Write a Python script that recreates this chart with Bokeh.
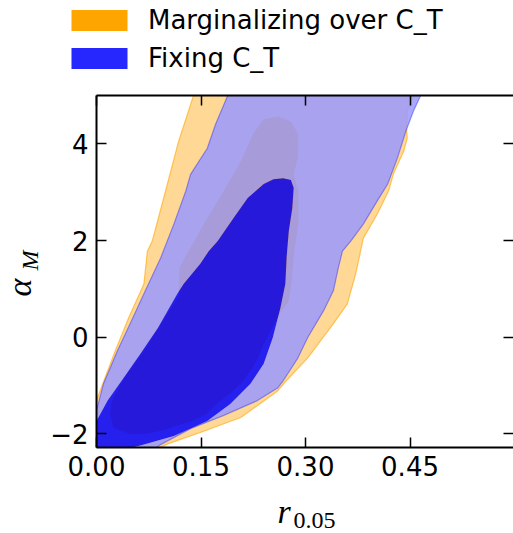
from bokeh.plotting import figure
from bokeh.layouts import row, column
from bokeh.models import (ColumnDataSource, LinearAxis, FixedTicker, PrintfTickFormatter,
                          CustomJSTickFormatter, Legend, LegendItem, Label, Range1d)
from bokeh.embed import file_html
from bokeh.resources import INLINE

# ---------------- data ----------------
x_ticks = [0.0, 0.15, 0.30, 0.45]
y_ticks = [-2, 0, 2, 4]
legend_labels = ["Marginalizing over C_T", "Fixing C_T"]

# Marginalizing over C_T : 2-sigma contour
marg_2sig_x = [0.146, 0.139, 0.118, 0.099, 0.080, 0.073, 0.068, 0.046, 0.027, 0.009, 0.000, -0.016, -0.023,
               0.075, 0.103, 0.149, 0.207, 0.260, 0.271,
               0.303, 0.340, 0.360, 0.372, 0.379, 0.383, 0.403, 0.419, 0.426, 0.441, 0.446, 0.445, 0.446, 0.455, 0.459]
marg_2sig_y = [5.29, 4.99, 4.06, 3.02, 1.99, 1.78, 1.10, 0.40, -0.28, -0.96, -1.31, -1.73, -2.45,
               -2.39, -2.20, -1.97, -1.66, -1.11, -0.92,
               -0.43, 0.28, 0.69, 1.31, 1.78, 2.05, 2.55, 3.02, 3.37, 3.85, 4.12, 4.32, 4.68, 4.99, 5.29]

# Marginalizing over C_T : 1-sigma contour
marg_1sig_x = [0.225, 0.240, 0.260, 0.279, 0.290, 0.289, 0.283, 0.290, 0.290, 0.284,
               0.280, 0.276, 0.264, 0.254, 0.241, 0.234, 0.224, 0.211, 0.195, 0.177,
               0.157, 0.135, 0.115, 0.096, 0.072, 0.047, 0.024, 0.019, 0.022, 0.040,
               0.065, 0.089, 0.118, 0.119, 0.128, 0.154, 0.182, 0.207]
marg_1sig_y = [4.22, 4.51, 4.57, 4.47, 4.20, 3.70, 3.37, 3.02, 2.34, 1.78,
               1.10, 0.75, 0.50, 0.24, -0.12, -0.37, -0.63, -0.90, -1.13, -1.33,
               -1.60, -1.75, -1.83, -1.93, -2.00, -2.00, -1.87, -1.58, -1.31, -0.84,
               -0.34, 0.19, 0.86, 1.43, 1.68, 2.34, 3.02, 3.64]

# Fixing C_T : 2-sigma contour
fix_2sig_x = [0.195, 0.188, 0.171, 0.159, 0.135, 0.128, 0.111, 0.092, 0.070, 0.052, 0.030, 0.010, 0.001,
              -0.023, -0.037,
              0.078, 0.092, 0.135, 0.182, 0.231, 0.260, 0.267,
              0.289, 0.303, 0.326, 0.340, 0.347, 0.353, 0.365, 0.383, 0.403, 0.418, 0.432, 0.444, 0.455, 0.465, 0.472]
fix_2sig_y = [5.29, 4.99, 4.41, 3.91, 3.37, 3.02, 2.34, 1.64, 0.96, 0.40, -0.28, -0.96, -1.46,
              -2.14, -2.76,
              -2.37, -2.22, -1.89, -1.62, -1.31, -1.05, -0.92,
              -0.43, -0.01, 0.55, 0.96, 1.43, 1.78, 1.99, 2.34, 2.82, 3.17, 3.71, 4.26, 4.68, 4.99, 5.29]

# Fixing C_T : 1-sigma contour
fix_1sig_x = [0.254, 0.268, 0.279, 0.283, 0.281, 0.276, 0.273, 0.271, 0.264, 0.253,
              0.240, 0.221, 0.192, 0.159, 0.111, 0.063, 0.020, -0.016, -0.016, 0.000,
              0.016, 0.039, 0.063, 0.088, 0.116, 0.125, 0.149, 0.161, 0.174, 0.197,
              0.217, 0.240]
fix_1sig_y = [3.27, 3.29, 3.25, 3.09, 2.67, 2.20, 1.68, 1.10, 0.61, -0.01,
              -0.55, -0.96, -1.38, -1.73, -2.04, -2.24, -2.39, -2.51, -2.14, -1.73,
              -1.31, -0.84, -0.34, 0.19, 0.90, 1.10, 1.52, 1.78, 1.99, 2.47,
              2.88, 3.17]

# ---------------- styling ----------------
ORANGE = "#ffa500"
LIGHT_ORANGE = "#fed894"
BLUE = "#0000ff"
LIGHT_BLUE = "#9999ff"
BLUE_ALPHA = 0.85
SERIF = "Liberation Serif"

TOTAL_W, TOTAL_H = 513, 533
YLAB_W = 44          # strip on the left holding the y-axis label
LEG_H = 90           # strip on top holding the legend
XLAB_H = 41          # strip at the bottom holding the x-axis label
MAIN_W = TOTAL_W - YLAB_W
MAIN_H = TOTAL_H - LEG_H - XLAB_H


def blank_fig(w, h, xr, yr):
    f = figure(width=w, height=h, x_range=xr, y_range=yr, output_backend="svg",
               toolbar_location=None, x_axis_location=None, y_axis_location=None,
               min_border=0, frame_align=False)
    f.grid.visible = False
    f.outline_line_color = None
    f.background_fill_color = None
    f.border_fill_color = None
    return f


# ---------------- main plot ----------------
p = figure(width=MAIN_W, height=MAIN_H,
           x_range=(0.0, 0.5985), y_range=(-2.28, 5.0),
           min_border_left=52, min_border_right=0,
           min_border_top=5, min_border_bottom=45,
           output_backend="svg", toolbar_location=None, frame_align=False,
           x_axis_location=None, y_axis_location=None)
p.grid.visible = False
p.outline_line_color = None
p.background_fill_color = "white"
p.border_fill_color = "white"

marg_band = ColumnDataSource(dict(xs=[[[marg_2sig_x, marg_1sig_x]]], ys=[[[marg_2sig_y, marg_1sig_y]]]))
p.multi_polygons(xs="xs", ys="ys", source=marg_band, fill_color=LIGHT_ORANGE, line_color=None)
p.patch(marg_1sig_x, marg_1sig_y, fill_color=ORANGE, line_color=None)
p.line(marg_2sig_x + marg_2sig_x[:1], marg_2sig_y + marg_2sig_y[:1],
       line_color=ORANGE, line_alpha=0.6, line_width=1.2)

fix_band = ColumnDataSource(dict(xs=[[[fix_2sig_x, fix_1sig_x]]], ys=[[[fix_2sig_y, fix_1sig_y]]]))
p.multi_polygons(xs="xs", ys="ys", source=fix_band, fill_color=LIGHT_BLUE,
                 fill_alpha=BLUE_ALPHA, line_color=None)
p.patch(fix_1sig_x, fix_1sig_y, fill_color=BLUE, fill_alpha=BLUE_ALPHA, line_color=None)
p.line(fix_2sig_x + fix_2sig_x[:1], fix_2sig_y + fix_2sig_y[:1],
       line_color=BLUE, line_alpha=0.35, line_width=1.2)


def style_axis(ax):
    ax.major_tick_in = 10
    ax.major_tick_out = 0
    ax.minor_tick_in = 10
    ax.minor_tick_out = 0
    ax.major_tick_line_width = 1.5
    ax.minor_tick_line_width = 1.5
    ax.major_tick_line_color = "black"
    ax.minor_tick_line_color = "black"
    ax.axis_line_width = 2
    ax.axis_line_color = "black"
    ax.major_label_text_font = "DejaVu Sans"
    ax.major_label_text_font_size = "26px"
    ax.major_label_text_color = "black"
    ax.major_label_standoff = 8


xb = LinearAxis(ticker=FixedTicker(ticks=x_ticks, minor_ticks=[]),
                formatter=PrintfTickFormatter(format="%.2f"))
style_axis(xb)
p.add_layout(xb, "below")

# top / right: tick marks only (minor ticks carry no labels)
xt = LinearAxis(ticker=FixedTicker(ticks=[], minor_ticks=x_ticks))
style_axis(xt)
xt.major_label_standoff = 0
p.add_layout(xt, "above")

yfmt = CustomJSTickFormatter(code="return (tick < 0 ? '\\u2212' : '') + Math.abs(tick).toFixed(0);")
yl = LinearAxis(ticker=FixedTicker(ticks=y_ticks, minor_ticks=[]), formatter=yfmt)
style_axis(yl)
p.add_layout(yl, "left")

yr = LinearAxis(ticker=FixedTicker(ticks=[], minor_ticks=y_ticks))
style_axis(yr)
yr.axis_line_color = None
yr.major_label_standoff = 0
p.add_layout(yr, "right")

# ---------------- legend strip ----------------
leg = blank_fig(MAIN_W, LEG_H, Range1d(0, MAIN_W), Range1d(0, LEG_H))
leg.min_border_left = 64 - YLAB_W
leg.min_border_top = 5
# hidden proxies (far outside the visible range) that only provide the legend swatches
lo = leg.rect(x=[-1000], y=[-1000], width=1, height=1, fill_color=ORANGE, line_color=None)
lb = leg.rect(x=[-1000], y=[-1000], width=1, height=1, fill_color=BLUE, fill_alpha=BLUE_ALPHA,
              line_color=None)
legend = Legend(items=[LegendItem(label=legend_labels[0], renderers=[lo]),
                       LegendItem(label=legend_labels[1], renderers=[lb])],
                location="top_left", orientation="vertical")
legend.glyph_width = 70
legend.glyph_height = 26
legend.label_text_font = "DejaVu Sans"
legend.label_text_font_size = "26px"
legend.label_text_color = "black"
legend.label_standoff = 14
legend.spacing = 8
legend.padding = 0
legend.margin = 0
legend.border_line_color = None
legend.background_fill_alpha = 0
leg.add_layout(legend)

# ---------------- x label strip (x: page px, y: px above page bottom) ----------------
xlab = blank_fig(MAIN_W, XLAB_H, Range1d(YLAB_W, TOTAL_W), Range1d(0, XLAB_H))
xlab.add_layout(Label(x=283.5, y=TOTAL_H - 511, text="r", text_font=SERIF, text_font_style="italic",
                      text_font_size="34px", text_align="center", text_baseline="middle",
                      text_color="black"))
xlab.add_layout(Label(x=293, y=TOTAL_H - 519.5, text="0.05", text_font=SERIF,
                      text_font_size="24px", text_align="left", text_baseline="middle",
                      text_color="black"))

# ---------------- y label strip (x: page px, y: px above page bottom) ----------------
ylab = blank_fig(YLAB_W, TOTAL_H, Range1d(0, YLAB_W), Range1d(0, TOTAL_H))
ylab.add_layout(Label(x=19, y=TOTAL_H - 287, text="\u03b1", text_font=SERIF, text_font_style="italic",
                      text_font_size="34px", text_align="center", text_baseline="middle",
                      angle=1.5707963, text_color="black"))
ylab.add_layout(Label(x=29, y=TOTAL_H - 260, text="M", text_font=SERIF, text_font_style="italic",
                      text_font_size="24px", text_align="center", text_baseline="middle",
                      angle=1.5707963, text_color="black"))

layout = row(ylab, column(leg, p, xlab, spacing=0), spacing=0)

open("out.html", "w", encoding="utf-8").write(file_html(layout, INLINE))
